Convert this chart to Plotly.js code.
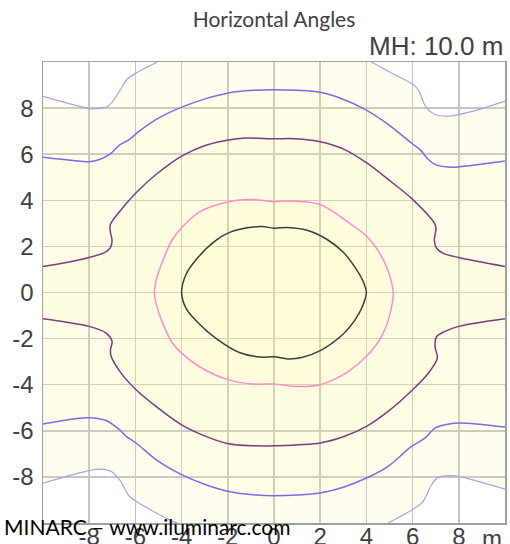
<!DOCTYPE html>
<html>
<head>
<meta charset="utf-8">
<script src="https://cdn.plot.ly/plotly-3.0.1.min.js"></script>
<style>html,body{margin:0;padding:0;background:#fff;}#chart{width:510px;height:544px;}</style>
</head>
<body>
<div id="chart"></div>
<script>
// Axis range and tick labels
const axisRange = [-10, 10];
const tickValues = [-8, -6, -4, -2, 0, 2, 4, 6, 8];
const tickLabels = ['-8', '-6', '-4', '-2', '0', '2', '4', '6', '8'];

// Outermost (lowest) isolux line, four corner pieces
const outerTL_x = [-10, -8.99, -8.01, -7.84, -7.19, -6.69, -6.37, -5.97, -5.04];
const outerTL_y = [8.51, 8.23, 7.98, 7.97, 8.08, 8.73, 9.24, 9.52, 10];
const outerTR_x = [4.22, 4.94, 6.03, 6.24, 6.60, 6.97, 7.54, 7.98, 9.0, 10];
const outerTR_y = [10, 9.60, 9.02, 8.80, 8.01, 7.72, 7.65, 7.72, 7.98, 8.30];
const outerBL_x = [-10, -8.70, -8.01, -7.55, -7.05, -6.69, -6.26, -5.97, -4.39, -4.17];
const outerBL_y = [-8.27, -7.90, -7.73, -7.66, -7.76, -8.12, -8.84, -9.06, -9.93, -10];
const outerBR_x = [4.94, 6.10, 6.46, 6.82, 7.11, 7.83, 8.55, 10];
const outerBR_y = [-10, -9.35, -9.06, -8.34, -8.02, -7.95, -8.12, -8.53];

// Second isolux line (blue)
const blueTop_x = [-10, -8.71, -8.01, -7.55, -7.12, -6.69, -6.26, -5.83, -5.11, -4.0, -2.95, -1.97, -0.91, 0, 1.0, 2.0, 2.77, 4.0, 4.94, 6.03, 6.32, 6.68, 6.97, 7.54, 7.99, 10];
const blueTop_y = [5.87, 5.73, 5.67, 5.77, 5.99, 6.39, 6.64, 7.00, 7.50, 8.04, 8.41, 8.66, 8.77, 8.80, 8.77, 8.69, 8.47, 7.91, 7.29, 6.42, 6.20, 5.77, 5.56, 5.44, 5.45, 5.70];
const blueBot_x = [-10, -8.70, -8.01, -7.27, -6.69, -6.40, -5.97, -5.11, -4.0, -2.95, -1.97, -0.91, 0, 1.0, 2.0, 3.0, 4.0, 4.94, 5.95, 6.53, 6.97, 7.40, 7.99, 10];
const blueBot_y = [-5.71, -5.49, -5.43, -5.55, -5.95, -6.24, -6.53, -7.25, -7.90, -8.34, -8.63, -8.77, -8.82, -8.79, -8.70, -8.45, -8.05, -7.54, -6.68, -6.32, -5.88, -5.74, -5.66, -5.84];

// Third isolux line (dark purple)
const purpTop_x = [-10, -8.99, -8.01, -7.34, -7.08, -7.01, -7.09, -7.08, -6.55, -5.97, -5.11, -4.0, -2.95, -1.97, -1.22, 0, 0.90, 2.0, 3.06, 4.0, 4.94, 6.0, 6.97, 7.01, 6.94, 7.04, 7.33, 7.99, 10];
const purpTop_y = [1.13, 1.30, 1.52, 1.73, 1.95, 2.24, 2.67, 2.96, 3.68, 4.33, 5.12, 5.92, 6.39, 6.62, 6.70, 6.67, 6.67, 6.54, 6.20, 5.63, 4.91, 4.04, 2.96, 2.74, 2.27, 1.92, 1.70, 1.52, 1.13];
const purpBot_x = [-10, -8.99, -8.01, -7.27, -7.01, -7.08, -7.05, -6.62, -5.97, -5.11, -4.0, -2.95, -1.97, -0.91, 0, 2.0, 3.06, 4.0, 4.94, 6.0, 6.68, 7.07, 6.97, 7.04, 7.40, 7.99, 10];
const purpBot_y = [-1.14, -1.29, -1.47, -1.76, -2.12, -2.49, -2.77, -3.50, -4.22, -4.94, -5.74, -6.24, -6.56, -6.65, -6.65, -6.53, -6.24, -5.81, -5.16, -4.22, -3.50, -2.85, -2.34, -1.91, -1.69, -1.47, -1.14];

// Fourth isolux line (pink), closed
const pink_x = [-5.18, -5.11, -4.82, -4.39, -4.0, -3.24, -1.97, -1.05, 0, 0.61, 2.0, 3.21, 4.0, 4.65, 5.01, 5.16, 5.01, 4.65, 4.0, 3.21, 2.0, 1.04, 0, -0.91, -1.97, -3.24, -4.0, -4.39, -4.82, -5.11, -5.18];
const pink_y = [0, 0.50, 1.37, 2.31, 2.81, 3.49, 3.94, 4.04, 3.94, 3.97, 3.82, 3.05, 2.45, 1.58, 0.72, 0, -0.97, -1.91, -2.77, -3.43, -4.0, -4.08, -3.97, -3.97, -3.79, -3.21, -2.63, -2.20, -1.33, -0.46, 0];

// Innermost isolux line (black), closed
const black_x = [-4.0, -3.8, -3.35, -2.6, -1.9, -1.0, -0.5, 0, 0.6, 1.5, 2.3, 3.0, 3.5, 3.85, 4.0, 3.85, 3.5, 3.0, 2.0, 1.2, 0.6, 0, -0.6, -1.5, -2.5, -3.3, -3.8, -4.0];
const black_y = [0, 0.8, 1.45, 2.2, 2.62, 2.83, 2.86, 2.79, 2.82, 2.68, 2.3, 1.75, 1.1, 0.5, 0, -0.55, -1.2, -1.8, -2.52, -2.82, -2.88, -2.79, -2.8, -2.6, -2.0, -1.3, -0.7, 0];

const rev = a => a.slice().reverse();

// Filled regions
const outerFill_x = [].concat(outerTL_x, outerTR_x, rev(outerBR_x), rev(outerBL_x));
const outerFill_y = [].concat(outerTL_y, outerTR_y, rev(outerBR_y), rev(outerBL_y));
const blueFill_x = [].concat(blueTop_x, rev(blueBot_x));
const blueFill_y = [].concat(blueTop_y, rev(blueBot_y));
const purpFill_x = [].concat(purpTop_x, rev(purpBot_x));
const purpFill_y = [].concat(purpTop_y, rev(purpBot_y));

function fillTrace(x, y, a) {
  return {x: x, y: y, type: 'scatter', mode: 'lines', fill: 'toself',
    fillcolor: 'rgba(255,248,150,' + a + ')', line: {width: 0}, hoverinfo: 'skip', showlegend: false};
}
function lineTrace(x, y, color, w) {
  return {x: x, y: y, type: 'scatter', mode: 'lines',
    line: {color: color, width: w, shape: 'spline', smoothing: 0.9}, hoverinfo: 'skip', showlegend: false};
}

const data = [
  fillTrace(outerFill_x, outerFill_y, 0.16),
  fillTrace(blueFill_x, blueFill_y, 0.08),
  fillTrace(purpFill_x, purpFill_y, 0.065),
  fillTrace(pink_x, pink_y, 0.065),
  fillTrace(black_x, black_y, 0.055),
  lineTrace(outerTL_x, outerTL_y, '#aaa0e6', 1.2),
  lineTrace(outerTR_x, outerTR_y, '#aaa0e6', 1.2),
  lineTrace(outerBL_x, outerBL_y, '#aaa0e6', 1.2),
  lineTrace(outerBR_x, outerBR_y, '#aaa0e6', 1.2),
  lineTrace(blueTop_x, blueTop_y, '#7b6ae8', 1.5),
  lineTrace(blueBot_x, blueBot_y, '#7b6ae8', 1.5),
  lineTrace(purpTop_x, purpTop_y, '#7a3c80', 1.5),
  lineTrace(purpBot_x, purpBot_y, '#7a3c80', 1.5),
  lineTrace(pink_x, pink_y, '#ff8cc8', 1.5),
  lineTrace(black_x, black_y, '#3c3c3c', 1.5)
];

const axisCommon = {
  range: axisRange, tickmode: 'array', tickvals: tickValues, ticktext: tickLabels,
  showgrid: true, gridcolor: '#c4c4c4', gridwidth: 1.5, zeroline: false,
  showline: true, mirror: true, linecolor: '#a0a0a0', linewidth: 1.5, ticks: '',
  tickfont: {family: 'Liberation Sans, Arial, sans-serif', size: 24, color: '#404040'},
  fixedrange: true
};

const layout = {
  width: 510, height: 544,
  margin: {l: 43, r: 5, t: 62, b: 21, pad: 0},
  paper_bgcolor: '#ffffff', plot_bgcolor: '#ffffff',
  title: {text: 'Horizontal Angles', font: {family: 'Lato, Open Sans, sans-serif', size: 21, color: '#404040'},
    xref: 'paper', x: 0.5, xanchor: 'center', yref: 'container', y: 0.963, yanchor: 'middle'},
  xaxis: Object.assign({}, axisCommon, {ticklabelstandoff: -8}),
  yaxis: Object.assign({}, axisCommon, {ticklabelstandoff: 3}),
  showlegend: false,
  annotations: [
    {text: 'MH: 10.0 m', xref: 'paper', yref: 'paper', x: 1.0, y: 1.0, xanchor: 'right', yanchor: 'bottom', yshift: -1,
      showarrow: false, font: {family: 'Liberation Sans, Arial, sans-serif', size: 26, color: '#404040'}},
    {text: 'm', xref: 'paper', yref: 'paper', x: 0.972, y: 0, xanchor: 'center', yanchor: 'top', yshift: 0,
      showarrow: false, font: {family: 'Liberation Sans, Arial, sans-serif', size: 24, color: '#404040'}},
    {text: 'MINARC – www.iluminarc.com', xref: 'paper', yref: 'paper', x: -0.089, y: 0, xanchor: 'left', yanchor: 'middle', yshift: -3,
      showarrow: false, font: {family: 'Lato, Open Sans, sans-serif', size: 21, color: '#000000'}}
  ]
};

Plotly.newPlot('chart', data, layout, {displayModeBar: false, staticPlot: true});
</script>
</body>
</html>
